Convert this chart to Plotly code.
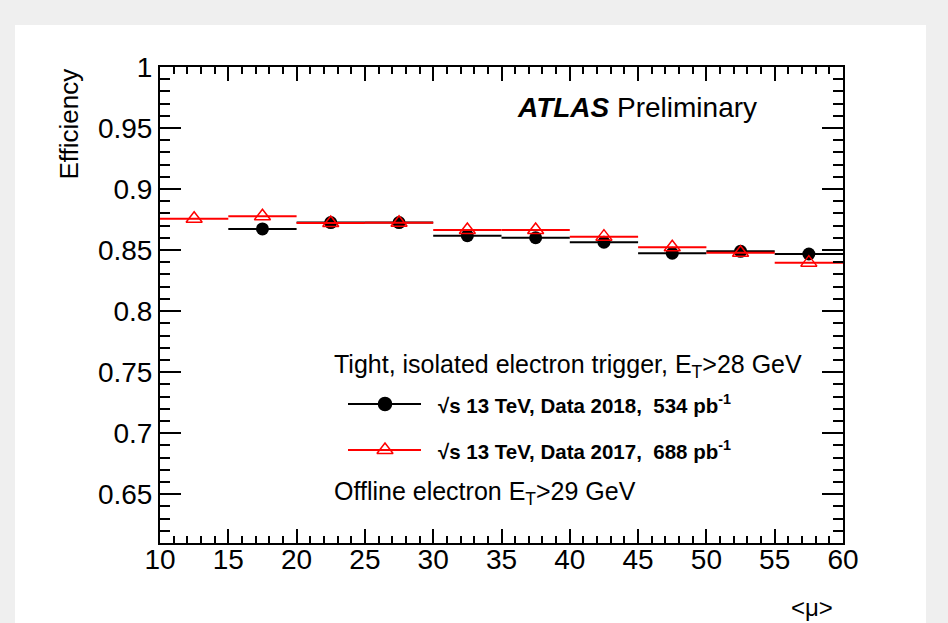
import plotly.graph_objects as go

# Trigger efficiency versus pile-up <mu>, 5-unit bins
bin_lo_2018 = [15, 20, 25, 30, 35, 40, 45, 50, 55]
eff_2018 = [0.8673, 0.8725, 0.8725, 0.8618, 0.8601, 0.8564, 0.8474, 0.8490, 0.8468]

bin_lo_2017 = [10, 15, 20, 25, 30, 35, 40, 45, 50, 55]
eff_2017 = [0.8757, 0.8777, 0.8722, 0.8724, 0.8664, 0.8664, 0.8610, 0.8523, 0.8478, 0.8397]

bin_width = 5
x_range = [10, 60]
y_range = [0.61, 1.0]

W, H = 948, 623
L, R, T, B = 160, 105, 67, 80
FONT = "Liberation Sans, Arial, Helvetica, sans-serif"


def px(x):
    return (x - L) / (W - L - R)


def py(y):
    return (H - B - y) / (H - T - B)


def centers(lo):
    return [v + bin_width / 2 for v in lo]


fig = go.Figure()

fig.add_trace(go.Scatter(
    x=centers(bin_lo_2018), y=eff_2018, mode="markers",
    marker=dict(symbol="circle", size=13, color="black"),
    error_x=dict(type="constant", value=bin_width / 2, width=0,
                 thickness=2, color="black"),
    showlegend=False,
))
fig.add_trace(go.Scatter(
    x=centers(bin_lo_2017), y=eff_2017, mode="markers",
    marker=dict(symbol="triangle-up-open", size=14, color="red",
                line=dict(width=1.5, color="red")),
    error_x=dict(type="constant", value=bin_width / 2, width=0,
                 thickness=2, color="red"),
    showlegend=False,
))

# Legend glyphs on an overlay axis in paper fractions
for yy, col, sym, sz in [(404, "black", "circle", 13), (450, "red", "triangle-up-open", 14)]:
    fig.add_shape(type="line", xref="paper", yref="paper",
                  x0=px(348), x1=px(421), y0=py(yy), y1=py(yy),
                  line=dict(color=col, width=2))
    fig.add_trace(go.Scatter(
        x=[px(385)], y=[py(yy)], xaxis="x2", yaxis="y2", mode="markers",
        marker=dict(symbol=sym, size=sz, color=col, line=dict(width=1.5, color=col)),
        showlegend=False, hoverinfo="skip",
    ))

# White canvas on grey surround
fig.add_shape(type="rect", xref="paper", yref="paper", layer="below",
              x0=px(15), x1=px(926), y0=py(640), y1=py(25),
              fillcolor="white", line=dict(width=0))

annots = [
    dict(x=px(515), y=py(107), xanchor="left", yanchor="middle",
         text="<b><i>ATLAS</i></b> Preliminary", font=dict(size=28)),
    dict(x=px(332), y=py(366), xanchor="left", yanchor="middle",
         text="Tight, isolated electron trigger, E<sub>T</sub>>28 GeV", font=dict(size=25)),
    dict(x=px(436), y=py(404), xanchor="left", yanchor="middle",
         text="<b>√s 13 TeV, Data 2018,  534 pb<sup>-1</sup></b>", font=dict(size=20.5)),
    dict(x=px(436), y=py(450), xanchor="left", yanchor="middle",
         text="<b>√s 13 TeV, Data 2017,  688 pb<sup>-1</sup></b>", font=dict(size=20.5)),
    dict(x=px(332), y=py(493), xanchor="left", yanchor="middle",
         text="Offline electron E<sub>T</sub>>29 GeV", font=dict(size=25)),
    dict(x=px(68), y=py(67), xanchor="center", yanchor="top", textangle=-90,
         text="Efficiency", font=dict(size=26)),
    dict(x=px(835), y=py(607), xanchor="right", yanchor="middle",
         text="<μ>", font=dict(size=24)),
]
for a in annots:
    a.update(xref="paper", yref="paper", showarrow=False)
    a["font"].update(family=FONT, color="black")
    fig.add_annotation(**a)

axis_common = dict(showline=True, linecolor="black", linewidth=2, mirror="ticks",
                   ticks="inside", tickcolor="black", tickwidth=1.5,
                   showgrid=False, zeroline=False,
                   tickfont=dict(family=FONT, size=28, color="black"))

fig.update_layout(
    width=W, height=H,
    margin=dict(l=L, r=R, t=T, b=B),
    paper_bgcolor="#efefef", plot_bgcolor="white",
    xaxis=dict(range=x_range, dtick=5, tick0=10, ticklen=14, ticklabelstandoff=-10,
               minor=dict(dtick=1, ticks="inside", ticklen=7, tickcolor="black", tickwidth=1.5),
               **axis_common),
    yaxis=dict(range=y_range, dtick=0.05, tick0=0.6, ticklen=21,
               minor=dict(dtick=0.01, ticks="inside", ticklen=10, tickcolor="black", tickwidth=1.5),
               **axis_common),
    xaxis2=dict(range=[0, 1], overlaying="x", visible=False, fixedrange=True),
    yaxis2=dict(range=[0, 1], overlaying="y", visible=False, fixedrange=True),
    showlegend=False,
)

fig.write_html("out.html")
